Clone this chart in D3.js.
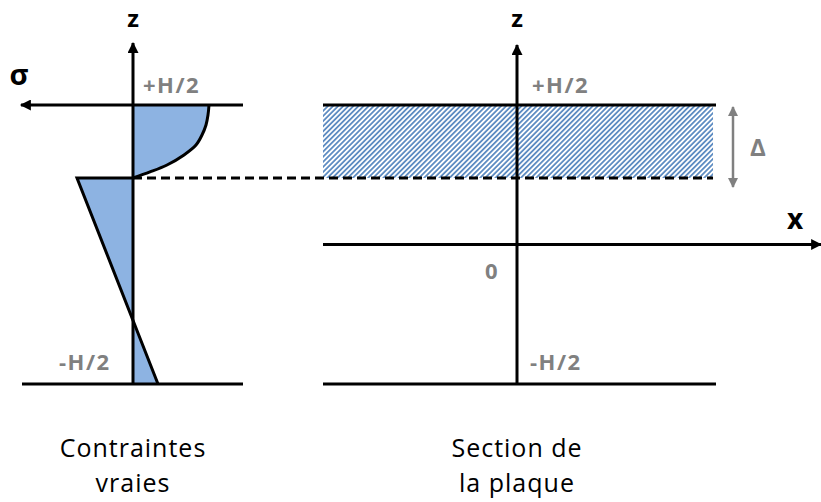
<!DOCTYPE html>
<html><head><meta charset="utf-8">
<script src="https://cdn.jsdelivr.net/npm/d3@7"></script>
<style>html,body{margin:0;padding:0;background:#fff;}svg{display:block;}</style>
</head><body>
<svg id="c" width="821" height="502"></svg>
<script>
// ---- data ----
const levelNames = ["top", "interface", "zero", "bottom"];
const levelZ = [1, 0.477, 0, -1];
const zTickLabels = ["+H/2", "0", "-H/2"];
// true stress profile: curved part (top layer)
const curveZ = [1.0, 0.928, 0.857, 0.785, 0.713, 0.642, 0.570, 0.520, 0.477];
const curveSigma = [-0.76, -0.75, -0.73, -0.69, -0.63, -0.51, -0.34, -0.17, 0];
// linear part (rest of plate)
const linZ = [0.477, -1];
const linSigma = [0.56, -0.25];
const captions = [["Contraintes", "vraies"], ["Section de", "la plaque"]];

const svg = d3.select("#c");
const black = "#000", grey = "#808080", fillBlue = "#8DB3E2", hatchBlue = "#4A7EBB";
const lw = 3;

// scales
const z = d3.scaleLinear().domain([-1, 1]).range([384, 105]);
const sig = d3.scaleLinear().domain([0, 1]).range([133, 33]);
const xs = d3.scaleLinear().domain([-1, 0, 1]).range([323, 517, 716]);
const zTop = z(levelZ[0]), zInt = z(levelZ[1]), zZero = z(levelZ[2]), zBot = z(levelZ[3]);

// defs: arrows & hatch
const defs = svg.append("defs");
function marker(id, color, w, h) {
  defs.append("marker").attr("id", id).attr("viewBox", "0 0 10 10").attr("refX", 9).attr("refY", 5)
    .attr("markerWidth", w).attr("markerHeight", h).attr("markerUnits", "userSpaceOnUse").attr("orient", "auto-start-reverse")
    .append("path").attr("d", "M0,0L10,5L0,10z").attr("fill", color);
}
marker("ab", black, 12, 11);
marker("ag", grey, 11, 10);
const pat = defs.append("pattern").attr("id", "hatch").attr("patternUnits", "userSpaceOnUse")
  .attr("width", 3.6).attr("height", 3.6).attr("patternTransform", "rotate(45)");
pat.append("rect").attr("width", 3.6).attr("height", 3.6).attr("fill", "#fff");
pat.append("line").attr("x1", 0.9).attr("y1", 0).attr("x2", 0.9).attr("y2", 3.6).attr("stroke", hatchBlue).attr("stroke-width", 1.6);

// ---------- Left panel: stress profile ----------
const curvePts = curveZ.map((v, i) => [sig(curveSigma[i]), z(v)]);
const line = d3.line().curve(d3.curveCatmullRom.alpha(0.5));
// curved area fill
svg.append("path")
  .attr("d", line(curvePts) + "L" + sig(0) + "," + z(curveZ[0]) + "Z")
  .attr("fill", fillBlue).attr("stroke", "none");
// linear part fill (two triangles)
const lp0 = [sig(linSigma[0]), z(linZ[0])], lp1 = [sig(linSigma[1]), z(linZ[1])];
const t0 = linSigma[0] / (linSigma[0] - linSigma[1]);
const cross = [sig(0), z(linZ[0] + t0 * (linZ[1] - linZ[0]))];
svg.append("path").attr("d", d3.line()([[sig(0), lp0[1]], lp0, cross, lp1, [sig(0), lp1[1]]]) + "Z")
  .attr("fill", fillBlue);
// curve stroke
svg.append("path").attr("d", line(curvePts)).attr("fill", "none").attr("stroke", black).attr("stroke-width", lw);
// linear stroke
svg.append("path").attr("d", d3.line()([[sig(0), lp0[1]], lp0, lp1])).attr("fill", "none").attr("stroke", black).attr("stroke-width", lw).attr("stroke-linejoin", "miter");
// sigma axis (top line) with arrow to the left
svg.append("line").attr("x1", 243).attr("y1", zTop).attr("x2", 21).attr("y2", zTop)
  .attr("stroke", black).attr("stroke-width", lw).attr("marker-end", "url(#ab)");
// bottom line
svg.append("line").attr("x1", 22).attr("y1", zBot).attr("x2", 243).attr("y2", zBot).attr("stroke", black).attr("stroke-width", lw);
// z axis
svg.append("line").attr("x1", sig(0)).attr("y1", zBot).attr("x2", sig(0)).attr("y2", 43)
  .attr("stroke", black).attr("stroke-width", lw).attr("marker-end", "url(#ab)");

// ---------- Right panel: plate section ----------
svg.append("rect").attr("x", xs(-1)).attr("y", zTop).attr("width", xs(0.985) - xs(-1)).attr("height", zInt - zTop)
  .attr("fill", "url(#hatch)");
// dashed interface line (spans both panels)
svg.append("line").attr("x1", sig(0)).attr("y1", zInt).attr("x2", xs(0.985)).attr("y2", zInt)
  .attr("stroke", black).attr("stroke-width", lw).attr("stroke-dasharray", "9,5");
// top & bottom faces
svg.append("line").attr("x1", xs(-1)).attr("y1", zTop).attr("x2", xs(1)).attr("y2", zTop).attr("stroke", black).attr("stroke-width", lw);
svg.append("line").attr("x1", xs(-1)).attr("y1", zBot).attr("x2", xs(1)).attr("y2", zBot).attr("stroke", black).attr("stroke-width", lw);
// x axis
svg.append("line").attr("x1", xs(-1)).attr("y1", zZero).attr("x2", 821).attr("y2", zZero)
  .attr("stroke", black).attr("stroke-width", lw).attr("marker-end", "url(#ab)");
// z axis
svg.append("line").attr("x1", xs(0)).attr("y1", zBot).attr("x2", xs(0)).attr("y2", 45)
  .attr("stroke", black).attr("stroke-width", lw).attr("marker-end", "url(#ab)");
// Delta dimension arrow
svg.append("line").attr("x1", 733).attr("y1", zTop + 2).attr("x2", 733).attr("y2", zInt + 9)
  .attr("stroke", grey).attr("stroke-width", 2.5)
  .attr("marker-start", "url(#ag)").attr("marker-end", "url(#ag)");

// ---------- Text ----------
const font = "'Open Sans', sans-serif";
function txt(x, y, s, opts) {
  return svg.append("text").attr("x", x).attr("y", y).text(s)
    .attr("font-family", font).attr("font-size", opts.size).attr("font-weight", opts.weight || 400)
    .attr("letter-spacing", opts.ls || 0)
    .attr("fill", opts.color || black).attr("text-anchor", opts.anchor || "start");
}
// axis names
txt(sig(0), 27, "z", {size: 24, weight: 700, anchor: "middle"});
txt(xs(0), 27, "z", {size: 24, weight: 700, anchor: "middle"});
txt(19, 85, "σ", {size: 29, weight: 700, anchor: "middle"});
txt(795, 229, "x", {size: 28, weight: 700, anchor: "middle"});
txt(758, 156, "Δ", {size: 24, weight: 700, color: grey, anchor: "middle"});
// z tick labels
const tick = {size: 22, weight: 700, color: grey, ls: 1.5};
txt(143, zTop - 12, zTickLabels[0], tick);
txt(xs(0) + 15, zTop - 12, zTickLabels[0], tick);
txt(xs(0) - 32, zZero + 34, zTickLabels[1], tick);
txt(59, zBot - 14, zTickLabels[2], tick);
txt(xs(0) + 13, zBot - 14, zTickLabels[2], tick);
// captions
const capX = [sig(0), xs(0)];
captions.forEach((lines, i) => {
  lines.forEach((l, j) => txt(capX[i], 457 + j * 35, l, {size: 25, ls: 1, anchor: "middle"}));
});
</script>
</body></html>
